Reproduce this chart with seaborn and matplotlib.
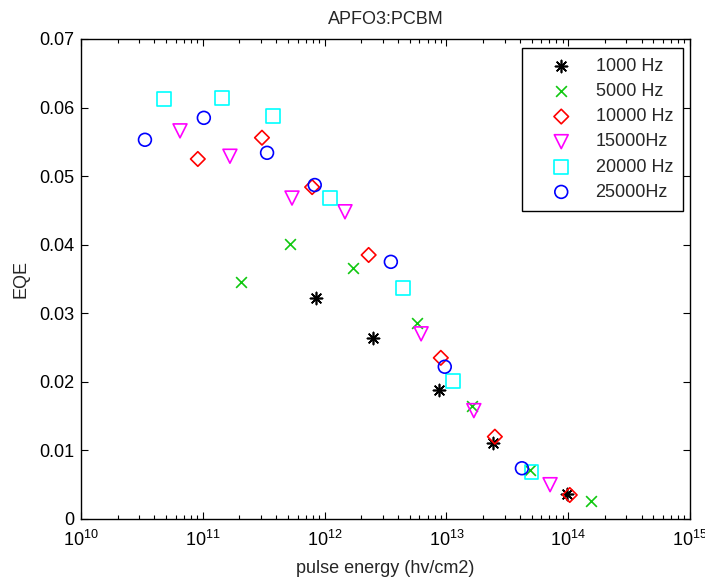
import numpy as np
import matplotlib
matplotlib.use("Agg")
import matplotlib.pyplot as plt
import matplotlib.ticker as mticker
import seaborn as sns

# ---- data ----
labels = ["1000 Hz", "5000 Hz", "10000 Hz", "15000Hz", "20000 Hz", "25000Hz"]

x_1000 = [8.5e11, 2.5e12, 8.7e12, 2.4e13, 9.8e13]
y_1000 = [0.0322, 0.0264, 0.0188, 0.0111, 0.0036]

x_5000 = [2.06e11, 5.2e11, 1.71e12, 5.74e12, 1.62e13, 4.86e13, 1.54e14]
y_5000 = [0.0346, 0.0401, 0.0366, 0.0286, 0.0165, 0.0071, 0.0026]

x_10000 = [9.1e10, 3.06e11, 7.9e11, 2.3e12, 9.0e12, 2.5e13, 1.03e14]
y_10000 = [0.0525, 0.0556, 0.0484, 0.0385, 0.0235, 0.0120, 0.0035]

x_15000 = [6.5e10, 1.67e11, 5.4e11, 1.47e12, 6.2e12, 1.68e13, 7.1e13]
y_15000 = [0.0566, 0.0529, 0.0468, 0.0448, 0.0270, 0.0158, 0.0050]

x_20000 = [4.8e10, 1.44e11, 3.77e11, 1.11e12, 4.4e12, 1.13e13, 5.0e13]
y_20000 = [0.0612, 0.0614, 0.0588, 0.0468, 0.0337, 0.0201, 0.0069]

x_25000 = [3.35e10, 1.02e11, 3.37e11, 8.3e11, 3.5e12, 9.7e12, 4.17e13]
y_25000 = [0.0553, 0.0585, 0.0534, 0.0487, 0.0375, 0.0222, 0.0074]

xs = [x_1000, x_5000, x_10000, x_15000, x_20000, x_25000]
ys = [y_1000, y_5000, y_10000, y_15000, y_20000, y_25000]

colors = ["#000000", "#10c810", "#ff0000", "#ff00ff", "#00ffff", "#0000ff"]
markers = [(8, 2, 0), "x", "D", "v", "s", "o"]
sizes = [75, 60, 55, 100, 100, 85]
filled = [False, False, True, True, True, True]

# ---- style ----
sns.set_style("ticks")
plt.rcParams["font.family"] = ["Liberation Sans", "DejaVu Sans"]
plt.rcParams["xtick.direction"] = "in"
plt.rcParams["ytick.direction"] = "in"

fig = plt.figure(figsize=(7.05, 5.8), dpi=100)
ax = fig.add_axes([0.1149, 0.1052, 0.8638, 0.8276])

for x, y, lab, c, m, s, f in zip(xs, ys, labels, colors, markers, sizes, filled):
    if f:
        sns.scatterplot(x=x, y=y, ax=ax, marker=m, s=s, facecolor="none",
                        edgecolor=c, linewidth=1.2, label=lab)
    else:
        sns.scatterplot(x=x, y=y, ax=ax, marker=m, s=s, color=c,
                        linewidth=1.2, label=lab)

ax.set_xscale("log")
ax.set_xlim(1e10, 1e15)
ax.set_ylim(0, 0.07)
ax.set_yticks([0, 0.01, 0.02, 0.03, 0.04, 0.05, 0.06, 0.07])
ax.set_yticklabels(["0", "0.01", "0.02", "0.03", "0.04", "0.05", "0.06", "0.07"])
ax.xaxis.set_major_locator(mticker.LogLocator(base=10, numticks=10))
ax.xaxis.set_minor_locator(mticker.LogLocator(base=10, subs=np.arange(2, 10), numticks=20))
ax.xaxis.set_minor_formatter(mticker.NullFormatter())

ax.tick_params(axis="both", which="both", top=True, right=True, direction="in",
               labelsize=13, colors="black")
ax.tick_params(axis="both", which="major", length=5, width=0.8)
ax.tick_params(axis="x", which="minor", length=3, width=0.8)
ax.tick_params(axis="x", which="major", pad=8)
ax.tick_params(axis="y", which="major", pad=5)
for sp in ax.spines.values():
    sp.set_visible(True)
    sp.set_color("black")
    sp.set_linewidth(1.0)

ax.set_xlabel("pulse energy (hv/cm2)", fontsize=13, labelpad=7)
ax.set_ylabel("EQE", fontsize=13, labelpad=7)
ax.set_title("APFO3:PCBM", fontsize=13, pad=11)

leg = ax.legend(loc="upper right", bbox_to_anchor=(0.9885, 0.981), fontsize=13,
                frameon=True, fancybox=False, edgecolor="black", framealpha=1,
                labelspacing=0.45, handletextpad=0.25, borderpad=0.55,
                handlelength=3.3, borderaxespad=0.0)
leg.get_frame().set_linewidth(1.0)

fig.savefig("out.png", dpi=100)
